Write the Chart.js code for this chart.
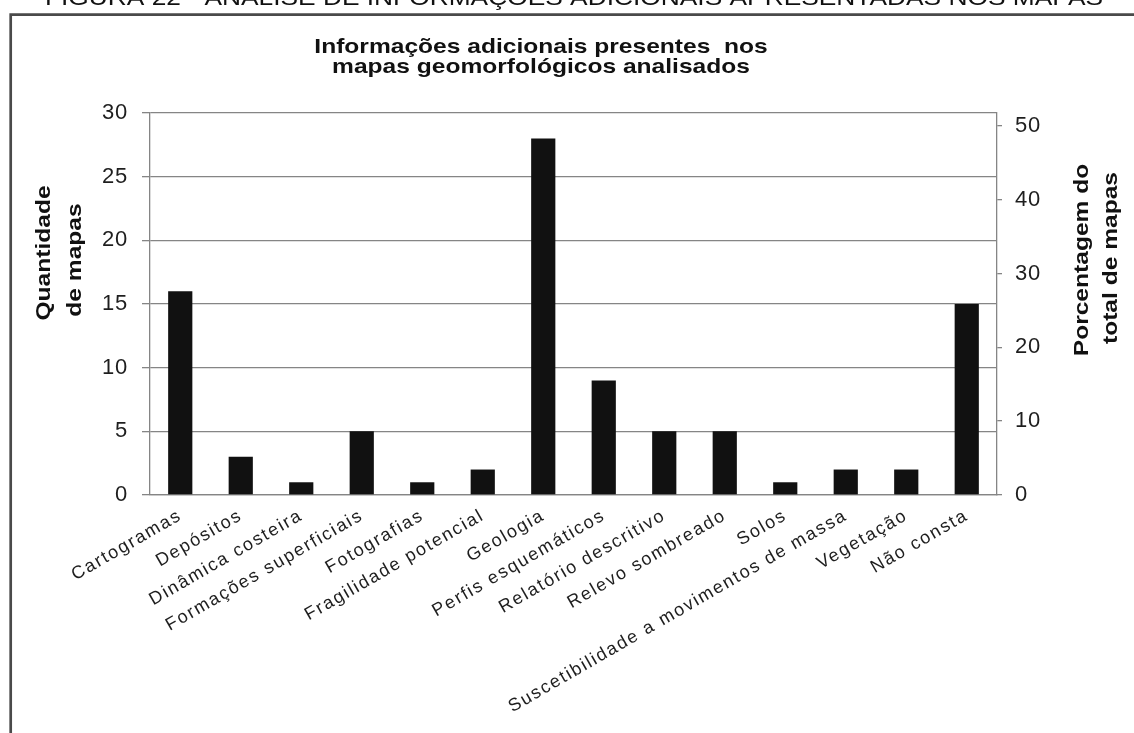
<!DOCTYPE html>
<html lang="pt">
<head>
    <meta charset="UTF-8">
    <title>Informações adicionais presentes nos mapas geomorfológicos analisados</title>
    <script src="https://cdn.jsdelivr.net/npm/chart.js"></script>
    <style>
        html, body { margin: 0; padding: 0; background: #fff; overflow: hidden; }
        #chart { position: absolute; left: 0; top: 0; }
    </style>
</head>
<body>
    <canvas id="chart" width="1134" height="733"></canvas>

    <script>
        const categories = [
            'Cartogramas', 'Depósitos', 'Dinâmica costeira', 'Formações superficiais',
            'Fotografias', 'Fragilidade potencial', 'Geologia', 'Perfis esquemáticos',
            'Relatório descritivo', 'Relevo sombreado', 'Solos',
            'Suscetibilidade a movimentos de massa', 'Vegetação', 'Não consta'
        ];
        const mapCounts = [16, 3, 1, 5, 1, 2, 28, 9, 5, 5, 1, 2, 2, 15];
        const countTicks = [0, 5, 10, 15, 20, 25, 30];
        const percentTicks = [0, 10, 20, 30, 40, 50];
        const totalMaps = 58;

        const figureCaption = 'FIGURA 22 - ANÁLISE DE INFORMAÇÕES ADICIONAIS APRESENTADAS NOS MAPAS';
        const chartTitle = ['Informações adicionais presentes  nos', 'mapas geomorfológicos analisados'];
        const leftTitle = ['Quantidade', 'de mapas'];
        const rightTitle = ['Porcentagem do', 'total de mapas'];

        // the fonts in this figure run wide, so text is stretched along its direction
        const WIDE = 1.17;
        const gridGray = '#858585';
        const tickColor = '#1e1e1e';
        const labelSpacing = { x: '1.8px', y: '0.8px', y2: '0.8px' };

        function wideText(ctx, text, x, y, angle, font, baseline) {
            ctx.save();
            ctx.translate(x, y);
            ctx.rotate(angle);
            ctx.scale(WIDE, 1);
            ctx.font = font;
            ctx.fillStyle = '#111';
            ctx.textAlign = 'center';
            ctx.textBaseline = baseline;
            ctx.fillText(text, 0, 0);
            ctx.restore();
        }

        const figureDecor = {
            id: 'figureDecor',
            beforeDraw(chart) {
                const ctx = chart.ctx;
                // frame around the figure
                ctx.save();
                ctx.strokeStyle = '#4a4a4a';
                ctx.lineWidth = 2.7;
                ctx.beginPath();
                ctx.moveTo(10.7, chart.height + 5);
                ctx.lineTo(10.7, 14.7);
                ctx.lineTo(chart.width + 5, 14.7);
                ctx.stroke();
                ctx.restore();
                // tick labels get some tracking, per axis
                Object.keys(labelSpacing).forEach(id => {
                    const scale = chart.scales[id];
                    if (!scale || scale._tracked) return;
                    const drawLabels = scale.drawLabels;
                    scale.drawLabels = function (area) {
                        ctx.save();
                        ctx.letterSpacing = labelSpacing[id];
                        drawLabels.call(this, area);
                        ctx.restore();
                    };
                    scale._tracked = true;
                });
            },
            afterDraw(chart) {
                const ctx = chart.ctx;
                const area = chart.chartArea;
                wideText(ctx, figureCaption, 574, 5, 0, '22.5px "Liberation Sans", Arial, sans-serif', 'alphabetic');
                const bold = 'bold 21px "Liberation Sans", Arial, sans-serif';
                wideText(ctx, chartTitle[0], 541, 53, 0, bold, 'alphabetic');
                wideText(ctx, chartTitle[1], 541, 73, 0, bold, 'alphabetic');
                const midY = (area.top + area.bottom) / 2;
                wideText(ctx, leftTitle[0], 44, midY - 51, -Math.PI / 2, bold, 'middle');
                wideText(ctx, leftTitle[1], 75, midY - 44, -Math.PI / 2, bold, 'middle');
                wideText(ctx, rightTitle[0], 1082, midY - 44, -Math.PI / 2, bold, 'middle');
                wideText(ctx, rightTitle[1], 1111, midY - 46, -Math.PI / 2, bold, 'middle');
            }
        };

        const tickFont = { family: '"Liberation Sans", Arial, sans-serif', size: 22 };

        new Chart(document.getElementById('chart'), {
            type: 'bar',
            data: {
                labels: categories,
                datasets: [{
                    label: 'Quantidade de mapas',
                    data: mapCounts,
                    backgroundColor: '#111111',
                    borderWidth: 0,
                    barPercentage: 0.4,
                    categoryPercentage: 1,
                    yAxisID: 'y'
                }]
            },
            options: {
                responsive: false,
                animation: false,
                layout: { padding: { top: 113, left: 0, right: 0, bottom: 0 } },
                plugins: {
                    legend: { display: false },
                    title: { display: false },
                    tooltip: { enabled: false }
                },
                scales: {
                    x: {
                        grid: { display: false, drawTicks: false },
                        border: { display: true, color: gridGray, width: 1.3 },
                        ticks: {
                            color: tickColor,
                            font: { family: '"Liberation Sans", Arial, sans-serif', size: 18 },
                            autoSkip: false,
                            minRotation: 30,
                            maxRotation: 30,
                            padding: 10
                        },
                        afterFit(scale) { scale.height = 733 - 495; }
                    },
                    y: {
                        position: 'left',
                        min: countTicks[0],
                        max: countTicks[countTicks.length - 1],
                        afterBuildTicks(scale) {
                            scale.ticks = countTicks.map(v => ({ value: v }));
                        },
                        grid: { color: gridGray, lineWidth: 1.3, tickLength: 8 },
                        border: { display: true, color: gridGray, width: 1.3 },
                        ticks: { color: tickColor, font: tickFont, padding: 14 },
                        afterFit(scale) { scale.width = 150; }
                    },
                    y2: {
                        position: 'right',
                        min: 0,
                        max: countTicks[countTicks.length - 1] / totalMaps * 100,
                        afterBuildTicks(scale) {
                            scale.ticks = percentTicks.map(v => ({ value: v }));
                        },
                        grid: { drawOnChartArea: false, color: gridGray, lineWidth: 1.3, tickLength: 5 },
                        border: { display: true, color: gridGray, width: 1.3 },
                        ticks: { color: tickColor, font: tickFont, padding: 13 },
                        afterFit(scale) { scale.width = 1134 - 997; }
                    }
                }
            },
            plugins: [figureDecor]
        });
    </script>
</body>
</html>
